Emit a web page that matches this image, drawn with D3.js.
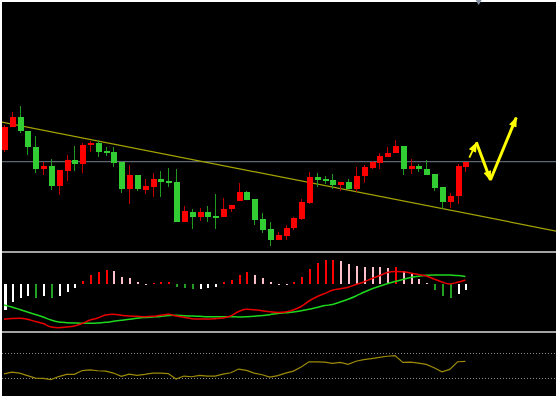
<!DOCTYPE html>
<html>
<head>
<meta charset="utf-8">
<script src="https://cdn.jsdelivr.net/npm/d3@7"></script>
<style>
body { margin: 0; background: #fff; }
svg { display: block; }
</style>
</head>
<body>
<div id="chart"></div>
<script>
// bar data, red = close up, green = close down
let opens = [10.50, 11.65, 12.15, 11.45, 10.65, 9.55, 9.70, 8.70, 9.45, 10.00,
    9.80, 10.75, 10.85, 10.45, 10.40, 9.90, 8.55, 9.25, 8.50, 8.65,
    9.05, 8.95, 8.90, 6.90, 7.40, 7.15, 7.40, 7.20, 7.15, 7.55,
    7.95, 8.40, 8.05, 7.05, 6.55, 6.00, 6.20, 6.60, 7.05, 7.85,
    9.15, 9.05, 9.00, 8.75, 8.90, 8.55, 9.20, 9.60, 9.85, 10.15,
    10.35, 10.70, 9.55, 9.70, 9.55, 9.30, 8.65, 7.90, 8.20, 9.65];
let highs = [11.75, 12.40, 12.70, 11.45, 11.20, 9.90, 10.05, 9.50, 10.25, 10.70,
    10.85, 10.95, 11.00, 10.65, 10.65, 9.90, 9.75, 9.25, 9.05, 9.35,
    9.45, 9.60, 9.55, 7.70, 7.55, 7.60, 7.70, 8.30, 8.10, 7.75,
    8.85, 8.45, 8.05, 7.35, 6.90, 6.40, 6.75, 7.15, 8.05, 9.40,
    9.35, 9.20, 9.30, 8.90, 9.05, 9.65, 9.75, 9.95, 10.35, 10.65,
    11.00, 10.70, 10.05, 9.80, 10.00, 9.30, 8.65, 8.35, 9.80, 9.90];
let lows = [10.40, 11.65, 11.35, 10.25, 9.35, 9.25, 8.50, 8.25, 8.95, 9.45,
    9.35, 10.40, 10.15, 10.20, 9.65, 8.35, 7.80, 8.45, 8.30, 8.15,
    8.15, 8.65, 6.90, 6.90, 6.55, 6.95, 6.90, 6.55, 7.15, 7.40,
    7.95, 8.00, 6.75, 6.35, 5.70, 6.00, 6.00, 6.50, 7.00, 7.80,
    8.65, 8.80, 8.55, 8.45, 8.55, 8.40, 8.85, 9.55, 9.55, 10.15,
    10.35, 9.25, 9.30, 9.40, 9.25, 8.45, 7.55, 7.60, 7.80, 9.40];
let closes = [11.65, 12.15, 11.45, 10.65, 9.55, 9.70, 8.70, 9.50, 10.00, 9.80,
    10.75, 10.85, 10.40, 10.35, 9.85, 8.55, 9.25, 8.55, 8.70, 9.05,
    8.90, 8.85, 6.90, 7.45, 7.15, 7.40, 7.15, 7.15, 7.55, 7.75,
    8.40, 8.00, 7.00, 6.50, 6.00, 6.25, 6.60, 7.10, 7.90, 9.15,
    9.00, 8.95, 8.75, 8.90, 8.55, 9.20, 9.65, 9.90, 10.20, 10.35,
    10.70, 9.55, 9.70, 9.55, 9.25, 8.60, 7.90, 8.20, 9.70, 9.90];

// MACD panel
let macdHist = [-0.257, -0.18, -0.14, -0.117, -0.133, -0.117, -0.14, -0.117, -0.073, -0.04,
    0.033, 0.093, 0.127, 0.143, 0.133, 0.077, 0.06, 0.02, 0.008, 0.017,
    0.02, 0.027, -0.03, -0.04, -0.05, -0.043, -0.037, -0.03, 0.02, 0.04,
    0.093, 0.12, 0.097, 0.067, 0.023, 0.007, 0.005, 0.023, 0.07, 0.153,
    0.21, 0.243, 0.245, 0.237, 0.203, 0.187, 0.177, 0.173, 0.17, 0.168,
    0.172, 0.133, 0.103, 0.053, 0.01, -0.053, -0.113, -0.14, -0.1, -0.06];
let macdMain = [-0.35, -0.342, -0.34, -0.35, -0.372, -0.392, -0.427, -0.434, -0.427, -0.417,
    -0.392, -0.357, -0.337, -0.307, -0.30, -0.31, -0.317, -0.32, -0.324, -0.32,
    -0.31, -0.30, -0.317, -0.33, -0.344, -0.347, -0.347, -0.344, -0.337, -0.317,
    -0.272, -0.25, -0.254, -0.265, -0.274, -0.282, -0.277, -0.257, -0.222, -0.167,
    -0.124, -0.092, -0.06, -0.044, -0.03, -0.002, 0.023, 0.056, 0.085, 0.118,
    0.128, 0.126, 0.113, 0.098, 0.083, 0.053, 0.023, 0.003, 0.02, 0.043];
let macdSignal = [-0.207, -0.227, -0.252, -0.277, -0.302, -0.327, -0.357, -0.377, -0.384, -0.387,
    -0.39, -0.39, -0.387, -0.38, -0.37, -0.36, -0.35, -0.34, -0.332, -0.327,
    -0.322, -0.312, -0.31, -0.314, -0.317, -0.32, -0.324, -0.324, -0.324, -0.324,
    -0.327, -0.324, -0.319, -0.311, -0.304, -0.292, -0.285, -0.277, -0.265, -0.25,
    -0.232, -0.213, -0.202, -0.177, -0.15, -0.117, -0.08, -0.047, -0.02, 0.005,
    0.028, 0.048, 0.068, 0.08, 0.09, 0.093, 0.093, 0.093, 0.087, 0.078];

// RSI panel
let rsiValues = [36.2, 39.1, 37.5, 33.5, 29.5, 29.0, 27.1, 31.9, 35.4, 35.4,
    41.5, 42.6, 41.2, 40.7, 37.5, 32.2, 35.9, 33.8, 35.4, 37.5,
    37.5, 36.7, 27.9, 32.7, 31.6, 33.8, 32.7, 32.7, 35.9, 38.0,
    43.9, 41.8, 37.5, 34.8, 31.1, 33.5, 37.5, 40.7, 47.1, 55.6,
    55.4, 55.0, 53.0, 54.6, 51.4, 56.4, 59.0, 60.7, 62.6, 64.4,
    65.4, 54.6, 55.1, 53.5, 51.4, 46.0, 39.6, 43.4, 55.6, 56.2];
let rsiLevels = [70, 30];

// drawn objects (bar index, price)
let priceLevel = 9.92;
let trendLine = [[-1, 11.95], [72, 6.34]];
let arrowSegments = [
    [[59.5, 10.12], [60.4, 10.86]],
    [[60.4, 10.89], [62.2, 9.0]],
    [[62.2, 9.0], [65.5, 12.12]]
];
let topMarker = 60.7;

let width = 558, height = 398;

let svg = d3.select("#chart").append("svg")
    .attr("width", width)
    .attr("height", height);

// black chart area inside a thin white frame
svg.append("rect")
    .attr("x", 2).attr("y", 2)
    .attr("width", 554).attr("height", 394)
    .attr("fill", "#000");

let xScale = d3.scaleLinear().domain([0, 59]).range([4, 465.4]);
let yPrice = d3.scaleLinear().domain([5.4, 17.9]).range([252, 2]);
let yMacd = d3.scaleLinear().domain([-0.457, 0.303]).range([330, 254]);
let yRsi = d3.scaleLinear().domain([0, 100]).range([396.5, 334]);

let defs = svg.append("defs");
defs.append("clipPath").attr("id", "clipMain")
    .append("rect").attr("x", 2).attr("y", 2).attr("width", 554).attr("height", 249);
defs.append("marker")
    .attr("id", "arrowHead")
    .attr("viewBox", "0 0 10 8")
    .attr("refX", 9).attr("refY", 4)
    .attr("markerUnits", "userSpaceOnUse")
    .attr("markerWidth", 11).attr("markerHeight", 8)
    .attr("orient", "auto")
    .append("path")
    .attr("d", "M0,0 L10,4 L0,8 Z")
    .attr("fill", "#ffff00");

let idx = d3.range(opens.length);
let cx = i => Math.round(xScale(i)) + 0.5;

// ---- main panel ----
let main = svg.append("g").attr("clip-path", "url(#clipMain)");

main.append("line")
    .attr("x1", 2).attr("x2", 556)
    .attr("y1", yPrice(priceLevel)).attr("y2", yPrice(priceLevel))
    .attr("stroke", "#5c6774")
    .attr("stroke-width", 1.4);

main.append("line")
    .attr("x1", xScale(trendLine[0][0])).attr("y1", yPrice(trendLine[0][1]))
    .attr("x2", xScale(trendLine[1][0])).attr("y2", yPrice(trendLine[1][1]))
    .attr("stroke", "#a5a400")
    .attr("stroke-width", 1.2);

let candles = main.selectAll(".candle")
    .data(idx)
    .join("g")
    .attr("class", "candle")
    .attr("shape-rendering", "crispEdges");

candles.append("line")
    .attr("x1", cx).attr("x2", cx)
    .attr("y1", i => yPrice(highs[i]))
    .attr("y2", i => yPrice(lows[i]))
    .attr("stroke", i => closes[i] > opens[i] ? "#c00000" : "#1f9a1f");

candles.append("rect")
    .attr("x", i => cx(i) - 3)
    .attr("width", 6)
    .attr("y", i => yPrice(Math.max(opens[i], closes[i])))
    .attr("height", i => Math.max(1.5, yPrice(Math.min(opens[i], closes[i])) - yPrice(Math.max(opens[i], closes[i]))))
    .attr("fill", i => closes[i] > opens[i] ? "#ff0000" : "#32cd32");

// hand drawn arrows
main.selectAll(".arrow")
    .data(arrowSegments)
    .join("line")
    .attr("class", "arrow")
    .attr("x1", d => xScale(d[0][0])).attr("y1", d => yPrice(d[0][1]))
    .attr("x2", d => xScale(d[1][0])).attr("y2", d => yPrice(d[1][1]))
    .attr("stroke", "#ffff00")
    .attr("stroke-width", (d, i) => i == 0 ? 1.8 : 3)
    .attr("marker-end", "url(#arrowHead)");

// small marker on the top edge
let mx = xScale(topMarker);
svg.append("path")
    .attr("d", `M${mx - 3},0 L${mx + 3},0 L${mx},5 Z`)
    .attr("fill", "#8391a0");

// ---- MACD panel ----
function histColor(i) {
    let v = macdHist[i], prev = i > 0 ? macdHist[i - 1] : v;
    if (v >= 0) return v >= prev ? "#ff0000" : "#ffc0cb";
    return v < prev ? "#22a022" : "#ffffff";
}

svg.selectAll(".hist")
    .data(idx)
    .join("rect")
    .attr("class", "hist")
    .attr("shape-rendering", "crispEdges")
    .attr("x", i => cx(i) - 1)
    .attr("width", i => i == 0 ? 3 : 2)
    .attr("y", i => Math.min(yMacd(0), yMacd(macdHist[i])))
    .attr("height", i => Math.max(1, Math.abs(yMacd(macdHist[i]) - yMacd(0))))
    .attr("fill", histColor);

let macdLine = d3.line()
    .x((d, i) => xScale(i))
    .y(d => yMacd(d))
    .curve(d3.curveMonotoneX);

svg.append("path")
    .attr("d", macdLine(macdSignal))
    .attr("fill", "none")
    .attr("stroke", "#1ed81e")
    .attr("stroke-width", 1.5);

svg.append("path")
    .attr("d", macdLine(macdMain))
    .attr("fill", "none")
    .attr("stroke", "#e80000")
    .attr("stroke-width", 1.5);

// ---- RSI panel ----
svg.selectAll(".level")
    .data(rsiLevels)
    .join("line")
    .attr("class", "level")
    .attr("x1", 2).attr("x2", 556)
    .attr("y1", d => Math.round(yRsi(d)) + 0.5)
    .attr("y2", d => Math.round(yRsi(d)) + 0.5)
    .attr("stroke", "#8a8a8a")
    .attr("stroke-dasharray", "1,2");

svg.append("path")
    .attr("d", d3.line().x((d, i) => xScale(i)).y(d => yRsi(d))(rsiValues))
    .attr("fill", "none")
    .attr("stroke", "#9c8a08")
    .attr("stroke-width", 1.2);

// panel separators
svg.selectAll(".sep")
    .data([yPrice.range()[0], yMacd.range()[0] + 2])
    .join("rect")
    .attr("class", "sep")
    .attr("x", 2).attr("width", 554)
    .attr("y", d => d - 1)
    .attr("height", 2)
    .attr("fill", "#a3a3a3");
</script>
</body>
</html>
